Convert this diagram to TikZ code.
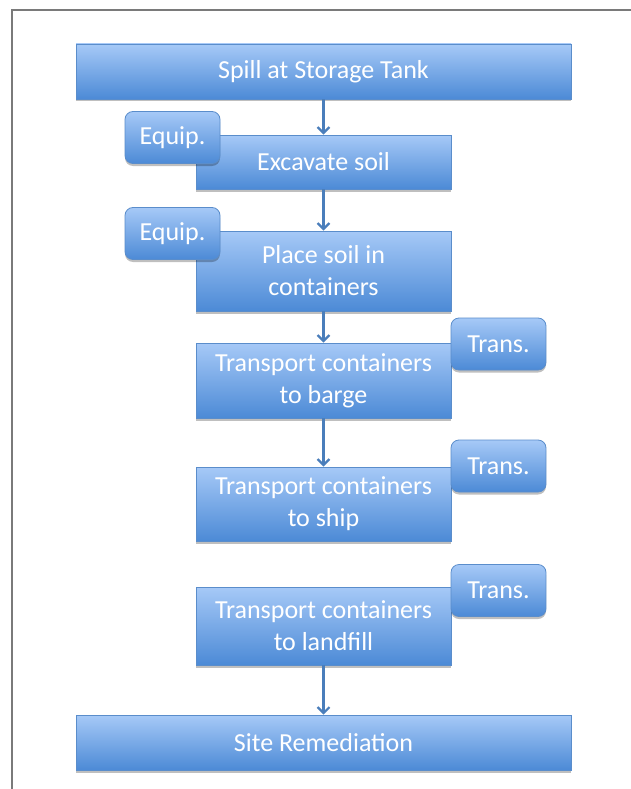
\documentclass[tikz,border=0pt]{standalone}
\usepackage{fontspec}
\setmainfont{Carlito}
\usetikzlibrary{arrows.meta,shadows}
\definecolor{boxtop}{HTML}{A6C9F7}
\definecolor{boxbot}{HTML}{4C8AD6}
\definecolor{boxline}{HTML}{5A8DCB}
\definecolor{arrowc}{HTML}{4A7EBB}
\definecolor{framec}{HTML}{7A7A7A}
\tikzset{
  boxbase/.style={draw=boxline, line width=0.8pt, top color=boxtop, bottom color=boxbot,
    text=white, font=\fontsize{26}{32}\selectfont, align=center, inner sep=0pt,
    drop shadow={shadow xshift=0pt, shadow yshift=-2.5pt, opacity=0.25, fill=black}},
  mainbox/.style={boxbase, rectangle},
  sidebox/.style={boxbase, rectangle, rounded corners=8pt, minimum width=95pt, minimum height=52pt},
  flowarrow/.style={draw=arrowc, line width=2.2pt, -{Straight Barb[length=6pt,width=12pt,line width=2.2pt]}},
}
\begin{document}
\begin{tikzpicture}[x=1pt,y=-1pt]
\useasboundingbox (0,0) rectangle (631,789);
\fill[white] (0,0) rectangle (631,789);
\draw[framec, line width=1.6pt] (631,10) -- (12,10) -- (12,789);

\node[mainbox, minimum width=495pt, minimum height=55pt] (spill) at (323.5,71.5) {Spill at Storage Tank};
\node[mainbox, minimum width=255pt, minimum height=54pt] (exc) at (323.5,162) {Excavate soil};
\node[mainbox, minimum width=255pt, minimum height=80pt] (place) at (323.5,271) {Place soil in\\containers};
\node[mainbox, minimum width=255pt, minimum height=75pt] (barge) at (323.5,380.5) {Transport containers\\to barge};
\node[mainbox, minimum width=255pt, minimum height=74pt] (ship) at (323.5,504) {Transport containers\\to ship};
\node[mainbox, minimum width=255pt, minimum height=78pt] (landfill) at (323.5,626) {Transport containers\\to landfill};
\node[mainbox, minimum width=495pt, minimum height=55pt] (site) at (323.5,742.5) {Site Remediation};

\node[sidebox] (eq1) at (172.5,137.5) {Equip.};
\node[sidebox] (eq2) at (172.5,233.5) {Equip.};
\node[sidebox] (tr1) at (498.5,344) {Trans.};
\node[sidebox] (tr2) at (498.5,466) {Trans.};
\node[sidebox] (tr3) at (498.5,590.5) {Trans.};

\draw[flowarrow] (spill.south) -- (exc.north);
\draw[flowarrow] (exc.south) -- (place.north);
\draw[flowarrow] (place.south) -- (barge.north);
\draw[flowarrow] (barge.south) -- (ship.north);
\draw[flowarrow] (landfill.south) -- (site.north);
\end{tikzpicture}
\end{document}
